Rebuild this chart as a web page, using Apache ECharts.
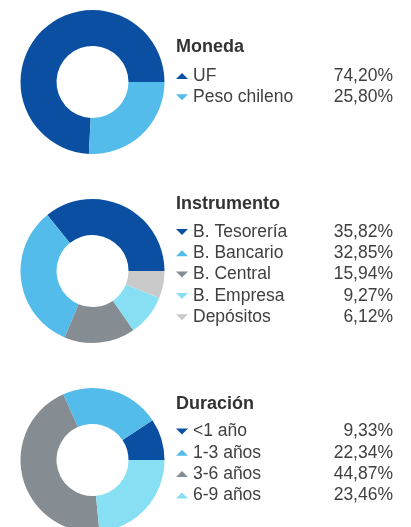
<!DOCTYPE html>
<html>
<head>
<meta charset="utf-8">
<script src="https://cdn.jsdelivr.net/npm/echarts@6/dist/echarts.min.js"></script>
<style>
  html, body { margin: 0; padding: 0; background: #ffffff; }
  #chart { width: 411px; height: 527px; }
</style>
</head>
<body>
<div id="chart"></div>
<script>
// Portfolio composition: currency, instrument and duration breakdowns
const monedaTitle = 'Moneda';
const monedaNames = ['UF', 'Peso chileno'];
const monedaValues = [74.20, 25.80];
const monedaMarks = ['up', 'down'];

const instrumentoTitle = 'Instrumento';
const instrumentoNames = ['B. Tesorería', 'B. Bancario', 'B. Central', 'B. Empresa', 'Depósitos'];
const instrumentoValues = [35.82, 32.85, 15.94, 9.27, 6.12];
const instrumentoMarks = ['down', 'up', 'down', 'down', 'down'];

const duracionTitle = 'Duración';
const duracionNames = ['<1 año', '1-3 años', '3-6 años', '6-9 años'];
const duracionValues = [9.33, 22.34, 44.87, 23.46];
const duracionMarks = ['down', 'up', 'up', 'up'];

const palette = {
  darkBlue: '#0b4fa3',
  lightBlue: '#53bcea',
  gray: '#858d93',
  cyan: '#87dff3',
  lightGray: '#cacaca'
};
const monedaColors = [palette.darkBlue, palette.lightBlue];
const instrumentoColors = [palette.darkBlue, palette.lightBlue, palette.gray, palette.cyan, palette.lightGray];
const duracionColors = [palette.darkBlue, palette.lightBlue, palette.gray, palette.cyan];

const ICONS = {
  up: 'path://M1,0L2,1L0,1Z',
  down: 'path://M0,0L2,0L1,1Z'
};

const fmt = v => v.toFixed(2).replace('.', ',') + '%';

const blocks = [
  { title: monedaTitle, names: monedaNames, values: monedaValues, marks: monedaMarks, colors: monedaColors, cy: 82, titleTop: 38.5, legendTop: 67 },
  { title: instrumentoTitle, names: instrumentoNames, values: instrumentoValues, marks: instrumentoMarks, colors: instrumentoColors, cy: 271, titleTop: 195, legendTop: 223 },
  { title: duracionTitle, names: duracionNames, values: duracionValues, marks: duracionMarks, colors: duracionColors, cy: 460, titleTop: 395, legendTop: 422.5 }
];

const valueByName = {};
blocks.forEach(b => b.names.forEach((n, i) => { valueByName[n] = b.values[i]; }));

const FONT = 'Liberation Sans, Arial, sans-serif';

const option = {
  animation: false,
  title: blocks.map(b => ({
    text: b.title,
    left: 176,
    top: b.titleTop,
    padding: 0,
    textStyle: { fontFamily: FONT, fontSize: 18, fontWeight: 'bold', color: '#333333', lineHeight: 18 }
  })),
  legend: blocks.map(b => ({
    orient: 'vertical',
    left: 176,
    top: b.legendTop,
    padding: 0,
    itemGap: 3.3,
    itemWidth: 12,
    itemHeight: 8,
    selectedMode: false,
    data: b.names.map((n, i) => ({ name: n, icon: ICONS[b.marks[i]] })),
    formatter: name => '{n|' + name + '}{v|' + fmt(valueByName[name]) + '}',
    textStyle: {
      fontFamily: FONT,
      fontSize: 17.5,
      color: '#404040',
      rich: {
        n: { fontFamily: FONT, fontSize: 17.5, color: '#404040', width: 130, lineHeight: 20, align: 'left' },
        v: { fontFamily: FONT, fontSize: 17.5, color: '#404040', width: 70, lineHeight: 20, align: 'right' }
      }
    }
  })),
  series: blocks.map(b => ({
    type: 'pie',
    center: [92.5, b.cy],
    radius: [36, 72],
    startAngle: 0,
    clockwise: false,
    avoidLabelOverlap: false,
    label: { show: false },
    labelLine: { show: false },
    emphasis: { disabled: true },
    itemStyle: { borderWidth: 0 },
    data: b.names.map((n, i) => ({ name: n, value: b.values[i], itemStyle: { color: b.colors[i] } }))
  }))
};

const chart = echarts.init(document.getElementById('chart'), null, { renderer: 'canvas' });
chart.setOption(option);
</script>
</body>
</html>
